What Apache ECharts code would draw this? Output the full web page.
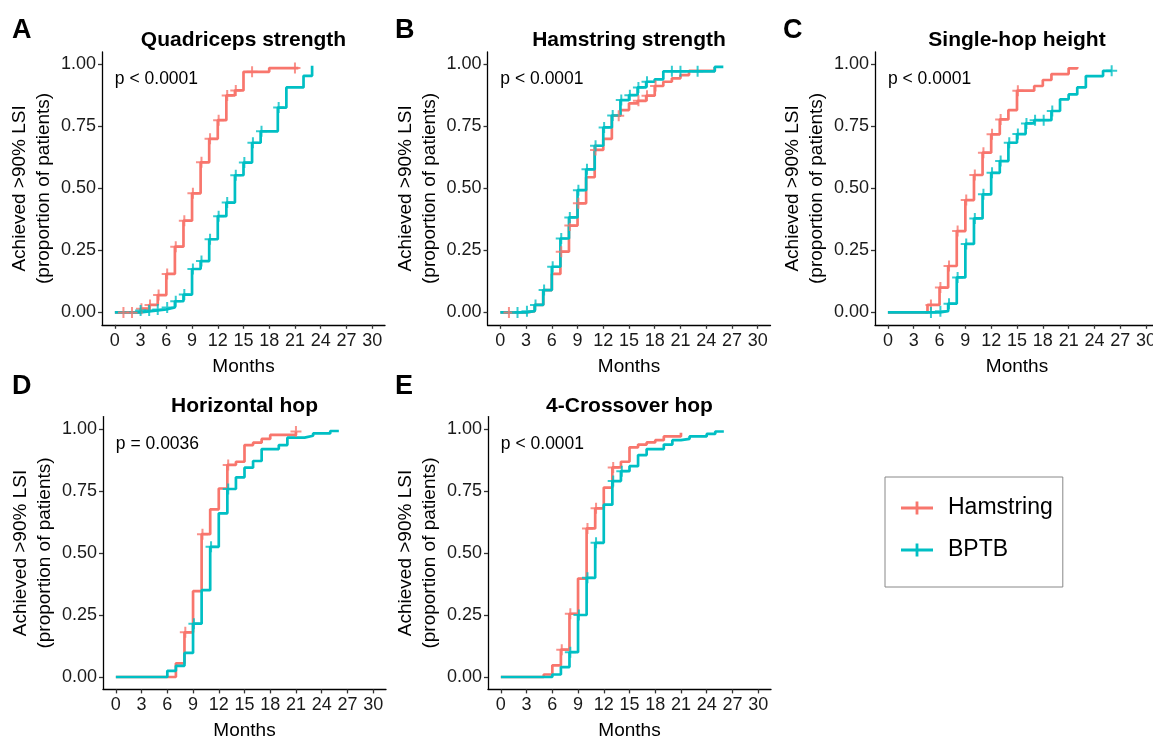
<!DOCTYPE html>
<html>
<head>
<meta charset="utf-8">
<script src="https://cdn.jsdelivr.net/npm/echarts@6/dist/echarts.min.js"></script>
<style>
  html, body { margin: 0; padding: 0; background: #fff; }
  #main { width: 1153px; height: 738px; }
</style>
</head>
<body>
<div id="main"></div>
<script>
// tick labels
const monthTicks = [0, 3, 6, 9, 12, 15, 18, 21, 24, 27, 30];
const propTicks = [0, 0.25, 0.5, 0.75, 1];
const groups = ['Hamstring', 'BPTB'];
const panelLetters = ['A', 'B', 'C', 'D', 'E'];
const panelTitles = ['Quadriceps strength', 'Hamstring strength', 'Single-hop height', 'Horizontal hop', '4-Crossover hop'];
const pValues = ['p < 0.0001', 'p < 0.0001', 'p < 0.0001', 'p = 0.0036', 'p < 0.0001'];

// A - Quadriceps strength
const quadHamTime = [0, 3, 4, 5, 6, 7, 8, 9, 10, 11, 12, 13, 14, 15, 18, 21.4];
const quadHamProp = [0, 0.015, 0.03, 0.07, 0.155, 0.265, 0.37, 0.48, 0.605, 0.70, 0.775, 0.875, 0.895, 0.97, 0.985, 0.985];
const quadHamCensor = [1, 2, 3.1, 4.1, 5.1, 6.1, 7.1, 8.1, 9.1, 10.1, 11.1, 12.1, 13.1, 14.1, 16, 21];
const quadBptbTime = [0, 3, 5, 6, 7, 8, 9, 10, 11, 12, 13, 14, 15, 16, 17, 19, 20, 22, 23];
const quadBptbProp = [0, 0.008, 0.012, 0.02, 0.045, 0.072, 0.175, 0.207, 0.295, 0.388, 0.443, 0.553, 0.604, 0.684, 0.73, 0.826, 0.907, 0.954, 0.995];
const quadBptbCensor = [3, 4, 5, 6.1, 7.1, 8.1, 9.1, 10.1, 11.1, 12.1, 13.1, 14.1, 15.1, 16.1, 17.1, 19.1];

// B - Hamstring strength
const hamsHamTime = [0, 3, 4, 5, 6, 7, 8, 9, 10, 11, 12, 13, 14, 15, 16, 17, 18, 19, 20, 21, 22, 25];
const hamsHamProp = [0, 0.005, 0.03, 0.09, 0.155, 0.245, 0.35, 0.44, 0.545, 0.655, 0.70, 0.793, 0.816, 0.843, 0.853, 0.874, 0.913, 0.93, 0.944, 0.957, 0.974, 0.99];
const hamsHamCensor = [1, 7.1, 8.1, 9.1, 11.1, 13.8, 16.1, 17.1, 18.1];
const hamsBptbTime = [0, 3, 4, 5, 6, 7, 8, 9, 10, 11, 12, 13, 14, 15, 16, 17, 18, 19, 25, 26];
const hamsBptbProp = [0, 0.005, 0.03, 0.09, 0.184, 0.298, 0.383, 0.493, 0.577, 0.672, 0.746, 0.794, 0.856, 0.876, 0.907, 0.93, 0.94, 0.972, 0.99, 0.99];
const hamsBptbCensor = [2, 3.1, 4.1, 5.1, 6.1, 7.1, 8.1, 9.1, 10.1, 11.1, 12.1, 13.1, 14.1, 15.1, 16.1, 17.1, 20, 21, 23];

// C - Single-hop height
const hopHamTime = [0, 4.6, 6, 7, 8, 9, 10, 11, 12, 13, 14, 15, 17, 18, 19, 21, 22];
const hopHamProp = [0, 0.03, 0.10, 0.187, 0.328, 0.453, 0.554, 0.644, 0.718, 0.778, 0.816, 0.894, 0.913, 0.937, 0.961, 0.984, 0.99];
const hopHamCensor = [5, 6.1, 7.1, 8.1, 9.1, 10.1, 11.1, 12.1, 13.1, 15.1];
const hopBptbTime = [0, 6, 7, 8, 9, 10, 11, 12, 13, 14, 15, 16, 17, 19, 20, 21, 22, 23, 25, 26];
const hopBptbProp = [0, 0.005, 0.035, 0.141, 0.276, 0.379, 0.476, 0.563, 0.61, 0.684, 0.719, 0.762, 0.775, 0.812, 0.859, 0.879, 0.907, 0.953, 0.974, 0.974];
const hopBptbCensor = [5, 6.1, 7.1, 8.1, 9.1, 10.1, 11.1, 12.1, 13.1, 14.1, 15.1, 16.1, 17.1, 18.1, 19.1, 26];

// D - Horizontal hop
const horHamTime = [0, 7, 8, 9, 10, 11, 12, 13, 14, 15, 16, 17, 18, 21];
const horHamProp = [0, 0.055, 0.18, 0.346, 0.576, 0.676, 0.76, 0.855, 0.868, 0.935, 0.945, 0.96, 0.976, 0.99];
const horHamCensor = [8.1, 10.1, 13.1, 21];
const horBptbTime = [0, 6, 7, 8, 9, 10, 11, 12, 13, 14, 15, 16, 17, 19, 20, 22, 23, 25, 26];
const horBptbProp = [0, 0.025, 0.045, 0.097, 0.215, 0.35, 0.525, 0.66, 0.758, 0.805, 0.844, 0.871, 0.919, 0.935, 0.965, 0.973, 0.982, 0.992, 0.992];
const horBptbCensor = [9.1, 11.1, 13.1];

// E - 4-Crossover hop
const crossHamTime = [0, 5, 6, 7, 8, 9, 10, 11, 12, 13, 14, 15, 16, 17, 18, 19, 21];
const crossHamProp = [0, 0.01, 0.047, 0.11, 0.255, 0.397, 0.599, 0.68, 0.764, 0.845, 0.868, 0.926, 0.937, 0.946, 0.955, 0.97, 0.985];
const crossHamCensor = [7.1, 8.1, 10.1, 11.1, 13.1];
const crossBptbTime = [0, 6, 7, 8, 9, 10, 11, 12, 13, 14, 15, 16, 17, 19, 20, 21, 22, 24, 25, 26];
const crossBptbProp = [0, 0.01, 0.04, 0.10, 0.25, 0.40, 0.541, 0.695, 0.79, 0.83, 0.85, 0.895, 0.919, 0.937, 0.955, 0.96, 0.97, 0.98, 0.99, 0.99];
const crossBptbCensor = [8.1, 9.1, 10.1, 11.1, 13.1, 14.1];

const colors = ['#F8766D', '#00BFC4'];
const fontFamily = '"Liberation Sans", Arial, sans-serif';
const plusPath = 'path://M0,4.5h11v2h-11z M4.5,0h2v11h-2z';

const panels = [
  { curves: [[quadHamTime, quadHamProp, quadHamCensor], [quadBptbTime, quadBptbProp, quadBptbCensor]], left: 102, top: 52, width: 283 },
  { curves: [[hamsHamTime, hamsHamProp, hamsHamCensor], [hamsBptbTime, hamsBptbProp, hamsBptbCensor]], left: 487.5, top: 52, width: 283 },
  { curves: [[hopHamTime, hopHamProp, hopHamCensor], [hopBptbTime, hopBptbProp, hopBptbCensor]], left: 875, top: 52, width: 284 },
  { curves: [[horHamTime, horHamProp, horHamCensor], [horBptbTime, horBptbProp, horBptbCensor]], left: 103, top: 416.6, width: 283 },
  { curves: [[crossHamTime, crossHamProp, crossHamCensor], [crossBptbTime, crossBptbProp, crossBptbCensor]], left: 488, top: 416.6, width: 283 }
];

// value of the step curve at time t
function stepValue (times, props, t) {
  let v = props[0];
  for (let j = 0; j < times.length; j++) {
    if (times[j] <= t) v = props[j];
  }
  return v;
}

const grids = [], xAxes = [], yAxes = [], series = [], titles = [];
panels.forEach((p, i) => {
  grids.push({ left: p.left, top: p.top, width: p.width, height: 272.8, outerBoundsMode: 'none', containLabel: false });
  xAxes.push({
    gridIndex: i, type: 'value', min: -1.5, max: 31.5,
    splitLine: { show: false },
    axisLine: { show: true, onZero: false, lineStyle: { color: '#000', width: 1.3 } },
    axisTick: { show: true, length: 4, customValues: monthTicks, lineStyle: { color: '#333', width: 1.3 } },
    axisLabel: { customValues: monthTicks, fontSize: 18, color: '#1a1a1a', margin: 7, fontFamily: fontFamily },
    name: 'Months', nameLocation: 'middle', nameGap: 32,
    nameTextStyle: { fontSize: 19, color: '#000', fontFamily: fontFamily }
  });
  yAxes.push({
    gridIndex: i, type: 'value', min: -0.05, max: 1.05,
    splitLine: { show: false },
    axisLine: { show: true, onZero: false, lineStyle: { color: '#000', width: 1.3 } },
    axisTick: { show: true, length: 4, customValues: propTicks, lineStyle: { color: '#333', width: 1.3 } },
    axisLabel: { customValues: propTicks, fontSize: 18, color: '#1a1a1a', margin: 6, fontFamily: fontFamily,
      formatter: v => v.toFixed(2) },
    name: 'Achieved >90% LSI\n(proportion of patients)', nameLocation: 'middle', nameGap: 46,
    nameTextStyle: { fontSize: 19, color: '#000', lineHeight: 24, fontFamily: fontFamily }
  });
  p.curves.forEach((c, g) => {
    series.push({
      name: groups[g], type: 'line', xAxisIndex: i, yAxisIndex: i, step: 'end',
      showSymbol: false, color: colors[g],
      lineStyle: { width: 2.7, color: colors[g] },
      data: c[0].map((t, k) => [t, c[1][k]]),
      z: 2 + g
    });
  });
  p.curves.forEach((c, g) => {
    series.push({
      name: groups[g], type: 'scatter', xAxisIndex: i, yAxisIndex: i,
      symbol: plusPath, symbolSize: 11, color: colors[g],
      itemStyle: { color: colors[g] },
      data: c[2].map(t => [t, stepValue(c[0], c[1], t)]),
      z: 4 + g
    });
  });
  const row2 = i >= 3;
  titles.push({
    text: panelLetters[i], left: [12, 395, 783, 12, 395][i], top: row2 ? 373 : 17.5, padding: 0,
    textStyle: { fontSize: 27, fontWeight: 'bold', color: '#000', fontFamily: fontFamily }
  });
  titles.push({
    text: panelTitles[i], left: p.left + p.width / 2, textAlign: 'center', top: row2 ? 396 : 30, padding: 0,
    textStyle: { fontSize: 21, fontWeight: 'bold', color: '#000', fontFamily: fontFamily }
  });
});

const chart = echarts.init(document.getElementById('main'));
chart.setOption({
  animation: false,
  backgroundColor: '#fff',
  title: titles,
  grid: grids,
  xAxis: xAxes,
  yAxis: yAxes,
  legend: {
    orient: 'vertical', left: 885, top: 477,
    padding: [19.5, 10, 25.5, 16], itemGap: 19,
    borderColor: '#888', borderWidth: 1,
    itemWidth: 32, itemHeight: 13,
    textStyle: { fontSize: 23, color: '#000', fontFamily: fontFamily, padding: [0, 0, 0, 10] },
    data: groups.map((g, k) => ({
      name: g,
      icon: 'path://M0,5h32v3h-32z M14.6,0h2.8v13h-2.8z',
      itemStyle: { color: colors[k] }
    }))
  },
  series: series
});

// p-value annotations at data position (0, 0.94) of each panel
const pTexts = pValues.map((txt, i) => {
  const pos = chart.convertToPixel({ xAxisIndex: i, yAxisIndex: i }, [0, 0.94]);
  return {
    type: 'text', x: pos[0], y: pos[1],
    style: { text: txt, fontSize: 17.5, fontFamily: fontFamily, fill: '#000', textAlign: 'left', textVerticalAlign: 'middle' }
  };
});
chart.setOption({ graphic: pTexts });
</script>
</body>
</html>
